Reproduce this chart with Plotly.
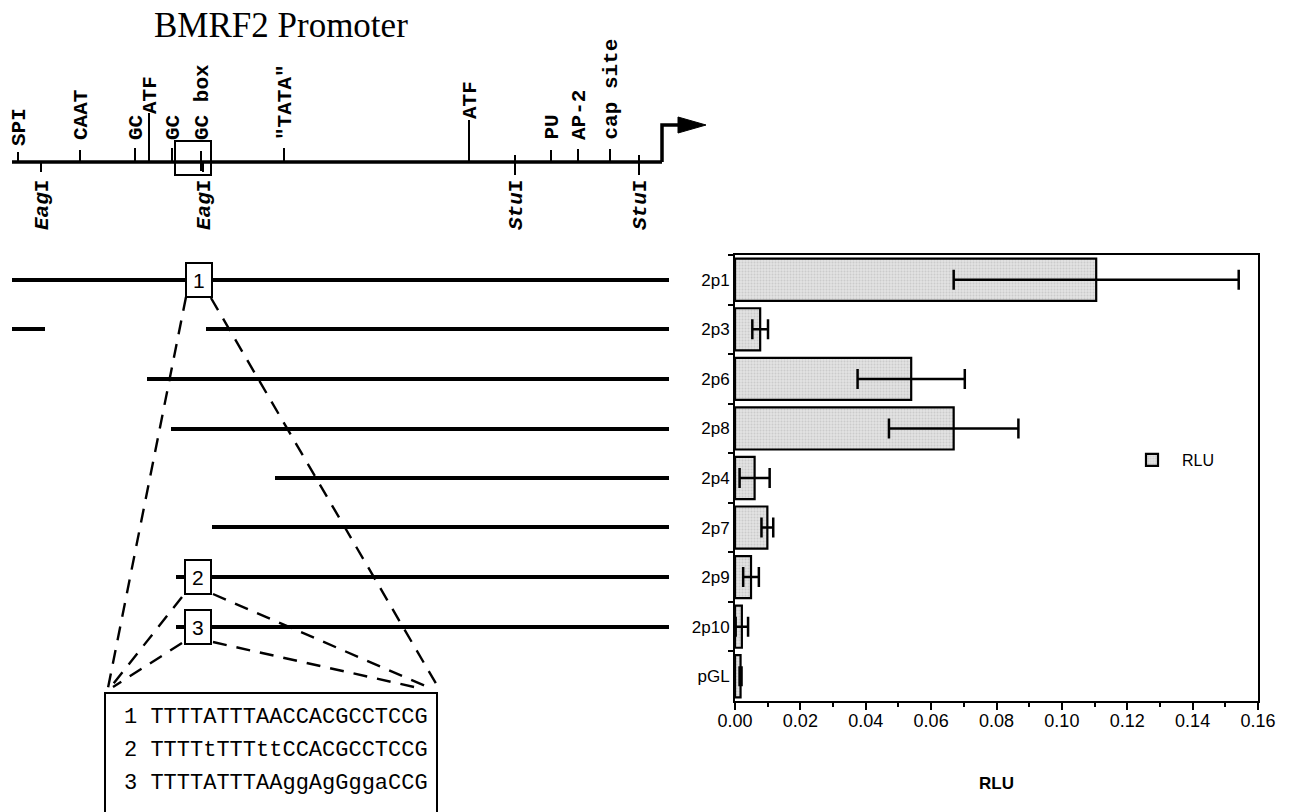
import plotly.graph_objects as go

# ---------------- bar chart data ----------------
constructs = ["2p1", "2p3", "2p6", "2p8", "2p4", "2p7", "2p9", "2p10", "pGL"]
rlu = [0.1105, 0.0077, 0.0539, 0.0669, 0.0060, 0.0099, 0.0049, 0.0021, 0.0017]
rlu_err = [0.0436, 0.0024, 0.0164, 0.0198, 0.0046, 0.0018, 0.0024, 0.0019, 0.0003]
x_tick_vals = [0.00, 0.02, 0.04, 0.06, 0.08, 0.10, 0.12, 0.14, 0.16]
x_tick_text = ["0.00", "0.02", "0.04", "0.06", "0.08", "0.10", "0.12", "0.14", "0.16"]

# ---------------- promoter map (diagram units) ----------------
promoter_x = [12, 662]
promoter_y = 162
arrow_x = [662, 662, 680]
arrow_y = [162, 125, 125]
arrow_head_x = [678, 706, 678]
arrow_head_y = [117, 125, 133]

above_names = ["SPI", "CAAT", "GC", "ATF", "GC", "GC box", "\"TATA\"", "ATF", "PU", "AP-2", "cap site"]
above_pos = [18, 80, 135, 149, 172, 201, 284, 469, 551, 578, 610]
above_tick_top = [152, 150, 148, 113, 148, 151, 148, 120, 150, 149, 149]
above_tick_bottom = [162, 162, 162, 162, 162, 171, 162, 162, 162, 162, 162]
above_label_bottom = [147, 141, 141, 115, 141, 141, 141, 120, 141, 141, 141]

below_names = ["<i>Eag</i>I", "<i>Eag</i>I", "<i>Stu</i>I", "<i>Stu</i>I"]
below_pos = [41, 203, 515, 639]
below_tick_top = [162, 162, 155, 155]
below_tick_bottom = [172, 172, 175, 175]
below_label_top = [179, 179, 179, 179]

gcbox_rect = [175, 141, 211, 175]

# deletion / mutation constructs (left-side line map)
row_names = ["2p1", "2p3", "2p6", "2p8", "2p4", "2p7", "2p9", "2p10"]
row_y = [280, 329, 379, 429, 478, 527, 577, 627]
row_segments = [
    [(12, 669)],
    [(12, 45), (206, 669)],
    [(147, 669)],
    [(171, 669)],
    [(275, 669)],
    [(212, 669)],
    [(176, 669)],
    [(176, 669)],
]
mut_labels = ["1", "2", "3"]
mut_row = [0, 6, 7]
mut_x = [186, 185, 185]
mut_w = 26
mut_h = 34

dash_lines = [
    ((186, 297), (108, 688)),
    ((211, 298), (438, 687)),
    ((182, 597), (110, 688)),
    ((213, 594), (430, 688)),
    ((182, 643), (113, 687)),
    ((213, 642), (423, 689)),
]

seq_rect = [105, 693, 437, 840]
seq_lines = ["1 TTTTATTTAACCACGCCTCCG", "2 TTTTtTTTttCCACGCCTCCG", "3 TTTTATTTAAggAgGggaCCG"]
seq_y = [717, 750, 783]
seq_x = 122

W, H = 1291, 812
DIAG_W = 716

fig = go.Figure()

# ---- bars ----
fig.add_trace(go.Bar(
    x=rlu, y=constructs, orientation="h", name="RLU",
    marker=dict(color="#dedede", line=dict(color="black", width=2.2),
                pattern=dict(shape=".", fgcolor="#b4b4b4", bgcolor="#e2e2e2", size=3, solidity=0.35)),
    error_x=dict(type="data", array=rlu_err, visible=True, color="black", thickness=2.5, width=10),
    xaxis="x", yaxis="y", showlegend=True,
))

# ---- promoter main line and arrow ----
line_style = dict(color="black", width=3.5)
fig.add_trace(go.Scatter(x=promoter_x, y=[promoter_y, promoter_y], mode="lines", line=line_style,
                         xaxis="x2", yaxis="y2", showlegend=False, hoverinfo="skip"))
fig.add_trace(go.Scatter(x=arrow_x, y=arrow_y, mode="lines", line=line_style,
                         xaxis="x2", yaxis="y2", showlegend=False, hoverinfo="skip"))
fig.add_trace(go.Scatter(x=arrow_head_x + [arrow_head_x[0]], y=arrow_head_y + [arrow_head_y[0]],
                         mode="lines", fill="toself", fillcolor="black", line=dict(color="black", width=1),
                         xaxis="x2", yaxis="y2", showlegend=False, hoverinfo="skip"))

# site ticks
tx, ty = [], []
for p, t, b in zip(above_pos, above_tick_top, above_tick_bottom):
    tx += [p, p, None]
    ty += [t, b, None]
for p, t, b in zip(below_pos, below_tick_top, below_tick_bottom):
    tx += [p, p, None]
    ty += [t, b, None]
fig.add_trace(go.Scatter(x=tx, y=ty, mode="lines", line=dict(color="black", width=2),
                         xaxis="x2", yaxis="y2", showlegend=False, hoverinfo="skip"))

# construct rows
rx, ry = [], []
for y, segs in zip(row_y, row_segments):
    for a, b in segs:
        rx += [a, b, None]
        ry += [y, y, None]
fig.add_trace(go.Scatter(x=rx, y=ry, mode="lines", line=dict(color="black", width=4),
                         xaxis="x2", yaxis="y2", showlegend=False, hoverinfo="skip"))

# dashed zoom lines
for (x0, y0), (x1, y1) in dash_lines:
    fig.add_trace(go.Scatter(x=[x0, x1], y=[y0, y1], mode="lines",
                             line=dict(color="black", width=2.4, dash="14px,10px"),
                             xaxis="x2", yaxis="y2", showlegend=False, hoverinfo="skip"))

# shapes: GC box rectangle, mutation boxes, sequence box
shapes = []
shapes.append(dict(type="rect", xref="x2", yref="y2", x0=gcbox_rect[0], y0=gcbox_rect[1],
                   x1=gcbox_rect[2], y1=gcbox_rect[3], line=dict(color="black", width=2),
                   fillcolor="rgba(0,0,0,0)"))
for lab, r, mx in zip(mut_labels, mut_row, mut_x):
    yc = row_y[r]
    shapes.append(dict(type="rect", xref="x2", yref="y2", x0=mx, x1=mx + mut_w,
                       y0=yc - mut_h / 2, y1=yc + mut_h / 2,
                       line=dict(color="black", width=2), fillcolor="white"))
shapes.append(dict(type="rect", xref="x2", yref="y2", x0=seq_rect[0], y0=seq_rect[1],
                   x1=seq_rect[2], y1=seq_rect[3], line=dict(color="black", width=2),
                   fillcolor="white"))

annotations = []
# title
annotations.append(dict(xref="x2", yref="y2", x=281, y=25, text="BMRF2 Promoter", showarrow=False,
                        font=dict(family="Liberation Serif", size=35, color="black"),
                        xanchor="center", yanchor="middle"))
lab_font = dict(family="Liberation Mono", size=21, color="black", weight="bold")
for n, p, lb in zip(above_names, above_pos, above_label_bottom):
    annotations.append(dict(xref="x2", yref="y2", x=p + 1, y=lb, text=n, textangle=-90,
                            showarrow=False, font=lab_font, xanchor="center", yanchor="bottom",
                            borderpad=0))
for n, p, lt in zip(below_names, below_pos, below_label_top):
    annotations.append(dict(xref="x2", yref="y2", x=p + 1, y=lt, text=n, textangle=-90,
                            showarrow=False, font=lab_font, xanchor="center", yanchor="top",
                            borderpad=0))
for lab, r, mx in zip(mut_labels, mut_row, mut_x):
    annotations.append(dict(xref="x2", yref="y2", x=mx + mut_w / 2, y=row_y[r], text=lab,
                            showarrow=False, font=dict(family="Liberation Sans", size=21, color="black"),
                            xanchor="center", yanchor="middle"))
for s, y in zip(seq_lines, seq_y):
    annotations.append(dict(xref="x2", yref="y2", x=seq_x, y=y, text=s, showarrow=False,
                            font=dict(family="Liberation Mono", size=22, color="black"),
                            xanchor="left", yanchor="middle"))

bar_x0, bar_x1 = 735, 1258
bar_ytop, bar_ybot = 255, 701

# x-axis title of the bar chart
annotations.append(dict(xref="x domain", yref="paper", x=0.5, y=1 - 783 / H, text="<b>RLU</b>",
                        showarrow=False, xanchor="center", yanchor="middle",
                        font=dict(family="Liberation Sans", size=17, color="black")))

fig.update_layout(
    width=W, height=H, autosize=False,
    margin=dict(l=0, r=0, t=0, b=0, autoexpand=False),
    paper_bgcolor="white", plot_bgcolor="rgba(0,0,0,0)",
    bargap=0.15,
    font=dict(family="Liberation Sans", color="black"),
    shapes=shapes, annotations=annotations,
    showlegend=True,
    legend=dict(x=1122 / W, y=1 - 460 / H, xanchor="left", yanchor="middle",
                bgcolor="rgba(0,0,0,0)", font=dict(family="Liberation Sans", size=16, color="black"),
                itemwidth=50),
    xaxis=dict(domain=[bar_x0 / W, bar_x1 / W], anchor="y", range=[0, 0.16], automargin=False,
               tickvals=x_tick_vals, ticktext=x_tick_text, ticks="outside", ticklen=7,
               tickwidth=2, tickcolor="black", showline=True, linecolor="black", linewidth=2,
               mirror=True, showgrid=False, zeroline=False, ticklabelstandoff=-5,
               tickfont=dict(family="Liberation Sans", size=18, color="black"),
               minor=dict(dtick=0.01, ticks="outside", ticklen=4, tickwidth=2, tickcolor="black",
                          showgrid=False)),
    yaxis=dict(domain=[1 - bar_ybot / H, 1 - bar_ytop / H], anchor="x", automargin=False,
               categoryorder="array", categoryarray=constructs, autorange="reversed",
               ticks="outside", tickson="boundaries", ticklen=5, tickwidth=2, tickcolor="black",
               showline=True, linecolor="black", linewidth=2, mirror=True, showgrid=False,
               tickfont=dict(family="Liberation Sans", size=17, color="black")),
    xaxis2=dict(domain=[0, DIAG_W / W], anchor="y2", range=[0, DIAG_W], visible=False,
                showgrid=False, zeroline=False, automargin=False),
    yaxis2=dict(domain=[0, 1], anchor="x2", range=[H, 0], visible=False,
                showgrid=False, zeroline=False, automargin=False),
)

fig.write_html("out.html", config={"displayModeBar": False},
               post_script="document.body.style.margin='0';")
